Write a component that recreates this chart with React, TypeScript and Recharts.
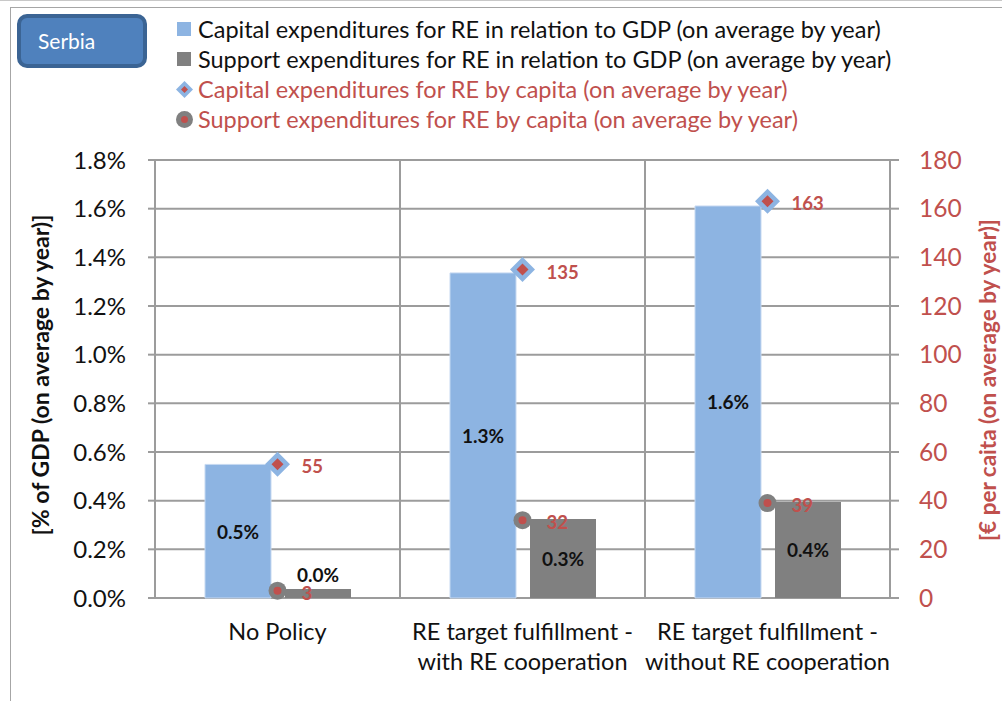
import React from 'react'
import { ComposedChart, Bar, Line, XAxis, YAxis, CartesianGrid, LabelList, Legend } from 'recharts'

const categories = [
  'No Policy',
  'RE target fulfillment -\nwith RE cooperation',
  'RE target fulfillment -\nwithout RE cooperation',
]
// % of GDP, on average by year
const capitalGdp = [0.549, 1.336, 1.611]
const supportGdp = [0.037, 0.325, 0.395]
// € per capita, on average by year
const capitalPerCapita = [55, 135, 163]
const supportPerCapita = [3, 32, 39]

const leftTicks = [0, 0.2, 0.4, 0.6, 0.8, 1.0, 1.2, 1.4, 1.6, 1.8]
const rightTicks = [0, 20, 40, 60, 80, 100, 120, 140, 160, 180]
const boundaryTicks = [0, 1, 2, 3]

const seriesNames = [
  'Capital expenditures for RE in relation to GDP (on average by year)',
  'Support expenditures for RE in relation to GDP (on average by year)',
  'Capital expenditures for RE by capita (on average by year)',
  'Support expenditures for RE by capita (on average by year)',
]

const FONT = 'Lato, "Open Sans", sans-serif'
const RED = '#C0504D'
const BLUE = '#8DB4E2'
const GRAY = '#808080'
const GRID = '#9C9C9C'
const TEXT = '#111'

const rows = categories.map((name, i) => ({
  name,
  slot: i + 0.5,
  capitalGdp: capitalGdp[i],
  supportGdp: supportGdp[i],
  capitalPc: capitalPerCapita[i],
  supportPc: supportPerCapita[i],
}))

const pct = (v: number) => `${v.toFixed(1)}%`

const Diamond = (props: any) => {
  const { cx, cy } = props
  if (cx == null || cy == null) return null
  return (
    <g>
      <polygon points={`${cx},${cy - 12.5} ${cx + 12.5},${cy} ${cx},${cy + 12.5} ${cx - 12.5},${cy}`} fill={BLUE} />
      <polygon points={`${cx},${cy - 6} ${cx + 6},${cy} ${cx},${cy + 6} ${cx - 6},${cy}`} fill={RED} />
    </g>
  )
}

const Dot = (props: any) => {
  const { cx, cy } = props
  if (cx == null || cy == null) return null
  return (
    <g>
      <circle cx={cx} cy={cy} r={9} fill={GRAY} />
      <circle cx={cx} cy={cy} r={4} fill={RED} />
    </g>
  )
}

const box = (p: any) => (p.viewBox && p.viewBox.x != null ? p.viewBox : p)

const BarValue = (props: any) => {
  const { x, y, width, height } = box(props)
  const small = height < 24
  return (
    <text x={x + width / 2} y={small ? y - 14 : y + height / 2} textAnchor="middle" dominantBaseline="central"
      fontFamily={FONT} fontWeight={700} fontSize={19} fill={TEXT}>
      {pct(Number(props.value))}
    </text>
  )
}

const PointValue = (props: any) => {
  const { x, y } = box(props)
  return (
    <text x={x + 24} y={y + 2} dominantBaseline="central" fontFamily={FONT} fontWeight={700} fontSize={18.5} fill={RED}>
      {props.value}
    </text>
  )
}

const CategoryTick = (props: any) => {
  const { x, y, payload } = props
  const lines = String(payload.value).split('\n')
  return (
    <text x={x} y={y} textAnchor="middle" fontFamily={FONT} fontSize={23.5} fill={TEXT}>
      {lines.map((l, i) => (
        <tspan key={i} x={x} dy={i === 0 ? 42 : 30}>{l}</tspan>
      ))}
    </text>
  )
}

const LegendIcon = ({ i }: { i: number }) => {
  if (i === 0) return <svg width={16} height={16}><rect x={1} y={1} width={14} height={14} fill={BLUE} /></svg>
  if (i === 1) return <svg width={16} height={16}><rect x={1} y={1} width={14} height={14} fill={GRAY} /></svg>
  if (i === 2)
    return (
      <svg width={17} height={17}>
        <polygon points="8.5,0 17,8.5 8.5,17 0,8.5" fill={BLUE} />
        <polygon points="8.5,5 12,8.5 8.5,12 5,8.5" fill={RED} />
      </svg>
    )
  return (
    <svg width={17} height={17}>
      <circle cx={8.5} cy={8.5} r={8.5} fill={GRAY} />
      <circle cx={8.5} cy={8.5} r={3.5} fill={RED} />
    </svg>
  )
}

const LegendBox = () => (
  <div style={{ fontFamily: FONT, fontSize: 23.5, whiteSpace: 'nowrap' }}>
    {seriesNames.map((n, i) => (
      <div key={i} style={{ display: 'flex', alignItems: 'center', height: 30, color: i < 2 ? TEXT : RED }}>
        <span style={{ width: 22, display: 'flex', alignItems: 'center' }}><LegendIcon i={i} /></span>
        <span>{n}</span>
      </div>
    ))}
  </div>
)

const LeftTitle = (props: any) => {
  const vb = props.viewBox
  const cx = vb.x + 40
  const cy = vb.y + vb.height / 2 - 4
  return (
    <text x={cx} y={cy} transform={`rotate(-90 ${cx} ${cy})`} textAnchor="middle" dominantBaseline="central"
      fontFamily={FONT} fontWeight={700} fontSize={23} fill={TEXT}>
      [% of GDP (on average by year)]
    </text>
  )
}

const RightTitle = (props: any) => {
  const vb = props.viewBox
  const cx = vb.x + 97
  const cy = vb.y + vb.height / 2 + 1
  return (
    <text x={cx} y={cy} transform={`rotate(-90 ${cx} ${cy})`} textAnchor="middle" dominantBaseline="central"
      fontFamily={FONT} fontWeight={700} fontSize={22.5} fill={RED}>
      [€ per caita (on average by year)]
    </text>
  )
}

const boundaryLines = ({ offset }: any) => boundaryTicks.map((t) => offset.left + (t * offset.width) / categories.length)

export default function App() {
  return (
    <div style={{ position: 'absolute', left: 0, top: 0, width: 1002, height: 701, overflow: 'hidden', background: '#fff' }}>
      <div style={{ position: 'absolute', left: 0, top: 0, width: 1002, borderTop: '1px solid #c8c8c8' }} />
      <div style={{ position: 'absolute', left: 10, top: 7, width: 1100, height: 800, border: '1px solid #a6a6a6' }} />
      <div style={{ position: 'absolute', left: 0, top: 0 }}>
        <ComposedChart width={1002} height={701} data={rows} margin={{ top: 160, right: 0, bottom: 5, left: 0 }}
          barSize={66} barGap={14}>
          <CartesianGrid yAxisId="left" stroke={GRID} strokeWidth={2} verticalCoordinatesGenerator={boundaryLines} />
          <XAxis xAxisId="grid" type="number" dataKey="slot" domain={[0, 3]} ticks={boundaryTicks} interval={0}
            allowDataOverflow height={0} axisLine={{ stroke: GRID, strokeWidth: 2 }}
            tickLine={{ stroke: GRID, strokeWidth: 2 }} tickSize={10} tick={() => <g />} />
          <XAxis xAxisId="cat" dataKey="name" height={98} interval={0} axisLine={false} tickLine={false}
            tickSize={0} tickMargin={0} tick={<CategoryTick />} />
          <YAxis yAxisId="left" width={155} domain={[0, 1.8]} ticks={leftTicks} tickFormatter={pct}
            axisLine={{ stroke: GRID, strokeWidth: 2 }} tickLine={{ stroke: GRID, strokeWidth: 2 }} tickSize={7}
            tickMargin={22} tick={{ fontFamily: FONT, fontSize: 24, fill: TEXT }} label={LeftTitle} />
          <YAxis yAxisId="right" orientation="right" width={112} domain={[0, 180]} ticks={rightTicks}
            axisLine={{ stroke: GRID, strokeWidth: 2 }} tickLine={{ stroke: GRID, strokeWidth: 2 }} tickSize={9}
            tickMargin={20} tick={{ fontFamily: FONT, fontSize: 24.5, fill: RED }} label={RightTitle} />
          <Legend layout="horizontal" verticalAlign="middle" align="center" content={<LegendBox />}
            wrapperStyle={{ top: 14, left: 176, width: 800 }} />
          <Bar xAxisId="cat" yAxisId="left" dataKey="capitalGdp" name={seriesNames[0]} fill={BLUE}
            stroke="#C6D9F1" strokeWidth={1} isAnimationActive={false}>
            <LabelList dataKey="capitalGdp" content={<BarValue />} />
          </Bar>
          <Bar xAxisId="cat" yAxisId="left" dataKey="supportGdp" name={seriesNames[1]} fill={GRAY}
            isAnimationActive={false}>
            <LabelList dataKey="supportGdp" content={<BarValue />} />
          </Bar>
          <Line xAxisId="cat" yAxisId="right" dataKey="capitalPc" name={seriesNames[2]} stroke="none"
            dot={<Diamond />} activeDot={false} isAnimationActive={false}>
            <LabelList dataKey="capitalPc" content={<PointValue />} />
          </Line>
          <Line xAxisId="cat" yAxisId="right" dataKey="supportPc" name={seriesNames[3]} stroke="none"
            dot={<Dot />} activeDot={false} isAnimationActive={false}>
            <LabelList dataKey="supportPc" content={<PointValue />} />
          </Line>
        </ComposedChart>
      </div>
      <div style={{
        position: 'absolute', left: 17, top: 14, width: 130, height: 54, boxSizing: 'border-box',
        background: '#4F81BD', border: '4px solid #3B6494', borderRadius: 10, color: '#fff',
        fontFamily: FONT, fontSize: 21, paddingLeft: 17, lineHeight: '46px',
      }}>
        Serbia
      </div>
    </div>
  )
}
